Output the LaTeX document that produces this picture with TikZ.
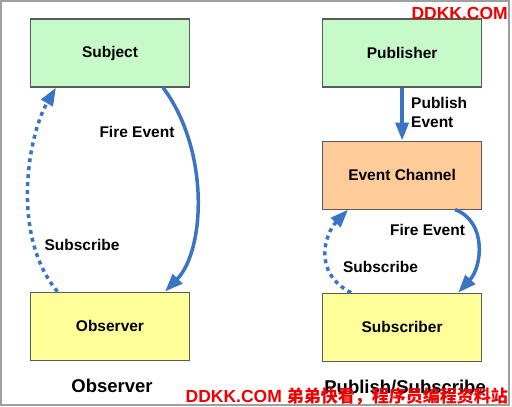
\documentclass[tikz,border=0pt]{standalone}
\usepackage{fontspec}
\setmainfont{Liberation Sans}
\newfontfamily\cjk{Noto Sans CJK SC}
\usepackage{xcolor}
\usetikzlibrary{arrows.meta,positioning}
\definecolor{boxgreen}{HTML}{C6FAC9}
\definecolor{boxyellow}{HTML}{FFFF99}
\definecolor{boxorange}{HTML}{FFCC99}
\definecolor{boxline}{HTML}{5A5A5A}
\definecolor{evblue}{HTML}{3A74C2}
\definecolor{wmred}{HTML}{F00000}

\begin{document}
\begin{tikzpicture}[
   x=1pt, y=1pt,
   box/.style={draw=boxline, line width=1.1pt, minimum width=159pt, minimum height=68pt, inner sep=0pt, font=\bfseries\fontsize{15.5}{19}\selectfont},
   topbox/.style={box, fill=boxgreen},
   chanbox/.style={box, fill=boxorange},
   endbox/.style={box, fill=boxyellow},
   evtxt/.style={font=\bfseries\fontsize{15.5}{19}\selectfont, inner sep=0pt},
   heading/.style={font=\bfseries\fontsize{18.5}{22}\selectfont, inner sep=0pt},
   wmark/.style={font=\bfseries\fontsize{17.5}{20}\selectfont, text=wmred, inner sep=0pt},
   ar/.style={-{Triangle[length=18pt, width=13pt]}, line width=3.5pt, draw=evblue},
   subar/.style={ar, dash pattern=on 4pt off 4pt}
]
\useasboundingbox (0,0) rectangle (512,-407);
\draw[gray!75, line width=1.5pt] (1,-1) rectangle (509,-405);

% observer
\node[topbox] (subj) at (110,-53) {Subject};
\node[endbox, below=204pt of subj] (obs) {Observer};
\node[heading, below=18pt of obs, xshift=2pt] (obstitle) {Observer};
\node[evtxt] (fire1) at (137,-132) {Fire Event};
\node[evtxt] (subs1) at (82,-245) {Subscribe};

% publish/subscribe
\node[topbox, right=132pt of subj] (pub) {Publisher};
\node[chanbox, below=53pt of pub] (chan) {Event Channel};
\node[endbox, below=83pt of chan] (sub) {Subscriber};
\node[heading, below=18pt of sub, xshift=3pt] (pstitle) {Publish/Subscribe};
\node[evtxt, align=left, anchor=west] (pubev) at (411,-112.5) {Publish\\Event};
\node[evtxt] (fire2) at (427.5,-230) {Fire Event};
\node[evtxt] (subs2) at (380.5,-267) {Subscribe};

\draw[ar] ([xshift=-27pt]subj.south east) .. controls +(47,-63) and +(40,41) .. ([xshift=-25pt]obs.north east);
\draw[subar] ([xshift=27.5pt]obs.north west) .. controls +(-47,56) and +(-28,-48) .. ([xshift=26pt]subj.south west);
\draw[ar] (pub) -- (chan);
\draw[ar] ([xshift=-27pt]chan.south east) .. controls +(32,-12) and +(24,26) .. ([xshift=-24pt]sub.north east);
\draw[subar] ([xshift=29pt]sub.north west) .. controls +(-39,20) and +(-23,-24) .. ([xshift=26pt]chan.south west);

% watermarks
\node[wmark, anchor=east] (wm1) at (508,-13.5) {DDKK.COM};
\node[wmark, anchor=east] (wm2) at (508,-396) {DDKK.COM {\cjk\fontsize{17}{20}\selectfont 弟弟快看，程序员编程资料站}};
\end{tikzpicture}
\end{document}
